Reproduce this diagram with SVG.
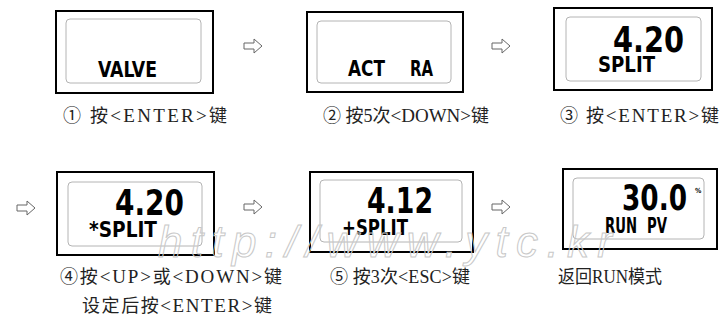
<svg xmlns="http://www.w3.org/2000/svg" width="720" height="320" viewBox="0 0 720 320">
<style>
.outer{fill:#fff;stroke:#000;stroke-width:2}
.inner{fill:none;stroke:#b4b4b4;stroke-width:1}
.lcd{font-family:"DejaVu Sans Condensed","DejaVu Sans",sans-serif;font-weight:bold;fill:#000}
.big{font-family:"DejaVu Sans Condensed","DejaVu Sans",sans-serif;font-weight:bold;fill:#000;font-size:36px}
.cap{font-family:"Liberation Serif","Noto Sans CJK SC",serif;font-size:18px;fill:#222}
.lat{font-size:19px}
.arr{fill:#fff;stroke:#666;stroke-width:1}
.wm{font-family:"Liberation Sans",sans-serif;font-style:italic;font-size:44px;fill:none;stroke:#c8c8c8;stroke-width:1}
</style>
<defs>
<path id="arrow" class="arr" d="M0,-3H10V-7L18,0L10,7V3H0Z"/>
</defs>
<g id="connectors">
<use href="#arrow" x="244" y="46"/>
<use href="#arrow" x="492" y="46"/>
<use href="#arrow" x="17" y="208"/>
<use href="#arrow" x="244" y="207"/>
<use href="#arrow" x="492" y="207"/>
</g>
<g id="n1">
<rect class="outer" x="56" y="11" width="157" height="82"/>
<rect class="inner" x="66" y="19" width="135" height="64" rx="4"/>
<text class="lcd" x="98" y="77" font-size="22" textLength="59" lengthAdjust="spacingAndGlyphs">VALVE</text>
<text class="cap" x="63" y="122" textLength="164" lengthAdjust="spacing">① 按<tspan class="lat">&lt;ENTER&gt;</tspan>键</text>
</g>
<g id="n2">
<rect class="outer" x="307" y="12" width="156" height="80"/>
<rect class="inner" x="317" y="21" width="134" height="62" rx="4"/>
<text class="lcd" y="76" font-size="21"><tspan x="348" textLength="37" lengthAdjust="spacingAndGlyphs">ACT</tspan><tspan x="410" textLength="23" lengthAdjust="spacingAndGlyphs">RA</tspan></text>
<text class="cap" x="323" y="122" textLength="166" lengthAdjust="spacing">② 按5次<tspan class="lat">&lt;DOWN&gt;</tspan>键</text>
</g>
<g id="n3">
<rect class="outer" x="554" y="8" width="158" height="82"/>
<rect class="inner" x="566" y="17" width="135" height="64" rx="4"/>
<text class="big" x="613" y="52" textLength="71" lengthAdjust="spacingAndGlyphs">4.20</text>
<text class="lcd" x="598" y="72" font-size="21" textLength="57" lengthAdjust="spacingAndGlyphs">SPLIT</text>
<text class="cap" x="560" y="122" textLength="159" lengthAdjust="spacing">③ 按<tspan class="lat">&lt;ENTER&gt;</tspan>键</text>
</g>
<g id="n4">
<rect class="outer" x="57" y="172" width="157" height="83"/>
<rect class="inner" x="68" y="182" width="134" height="64" rx="4"/>
<text class="big" x="115" y="215" textLength="69" lengthAdjust="spacingAndGlyphs">4.20</text>
<text class="lcd" x="89" y="237" font-size="21" textLength="68" lengthAdjust="spacingAndGlyphs">*SPLIT</text>
<text class="cap" x="60" y="283" textLength="222" lengthAdjust="spacing">④按<tspan class="lat">&lt;UP&gt;</tspan>或<tspan class="lat">&lt;DOWN&gt;</tspan>键</text>
<text class="cap" x="82" y="312" textLength="190" lengthAdjust="spacing">设定后按<tspan class="lat">&lt;ENTER&gt;</tspan>键</text>
</g>
<g id="n5">
<rect class="outer" x="310" y="172" width="163" height="80"/>
<rect class="inner" x="320" y="180" width="142" height="62" rx="4"/>
<text class="big" x="367" y="213" textLength="66" lengthAdjust="spacingAndGlyphs">4.12</text>
<text class="lcd" x="342" y="235" font-size="21" textLength="66" lengthAdjust="spacingAndGlyphs">+SPLIT</text>
<text class="cap" x="330" y="283" textLength="140" lengthAdjust="spacing">⑤ 按3次&lt;ESC&gt;键</text>
</g>
<g id="n6">
<rect class="outer" x="563" y="169" width="154" height="80"/>
<rect class="inner" x="573" y="178" width="131" height="61" rx="4"/>
<text class="big" x="622" y="210" textLength="65" lengthAdjust="spacingAndGlyphs">30.0</text>
<text class="lcd" x="695" y="193" font-size="7">%</text>
<text class="lcd" y="233" font-size="22"><tspan x="605" textLength="32" lengthAdjust="spacingAndGlyphs">RUN</tspan><tspan x="647" textLength="20" lengthAdjust="spacingAndGlyphs">PV</tspan></text>
<text class="cap" x="558" y="283" textLength="104" lengthAdjust="spacingAndGlyphs">返回RUN模式</text>
</g>
<text class="wm" x="158" y="257" textLength="454" lengthAdjust="spacing">http://www.ytc.kr</text>
</svg>
